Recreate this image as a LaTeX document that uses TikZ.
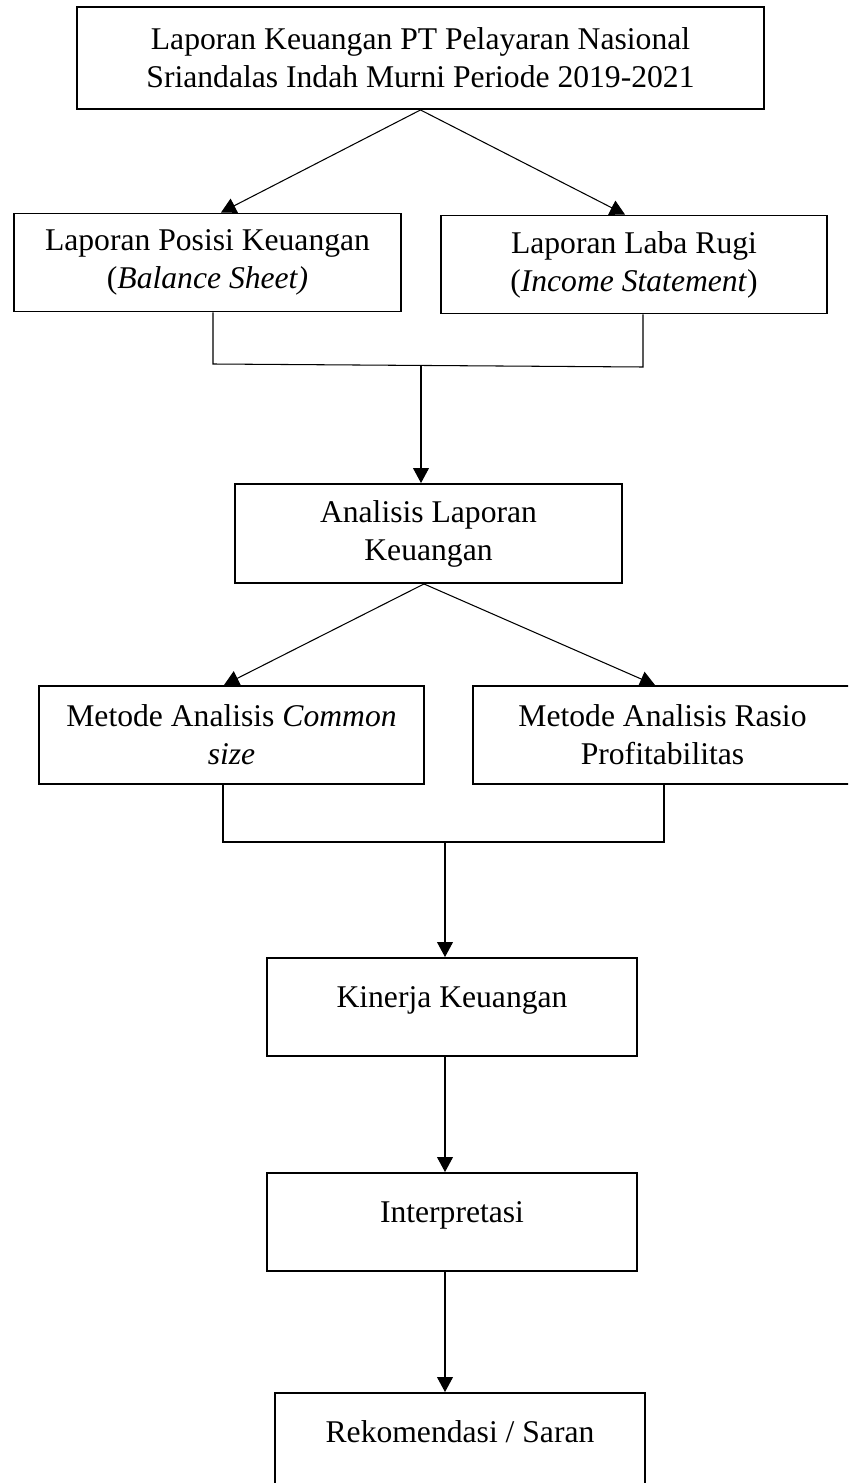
\documentclass[tikz,border=0pt]{standalone}
\usepackage{fontspec}
\setmainfont{Liberation Serif}
\usetikzlibrary{arrows.meta,positioning}

\begin{document}
\begin{tikzpicture}[x=0.02cm, y=-0.02cm,
    box/.style={draw, line width=1.1pt, align=center, inner sep=0pt,
        font=\fontsize{18}{21.6}\selectfont, minimum height=1.96cm},
    onebox/.style={box, text height=0.42cm, text depth=0.42cm},
    link/.style={line width=0.6pt},
    >={Triangle[width=9pt,length=8.5pt]}]
\clip (0,0) rectangle (848,1483);

% Boxes
\node[box, minimum width=13.74cm, minimum height=2.04cm] (lap) at (420.5,58)
    {Laporan Keuangan PT Pelayaran Nasional\\Sriandalas Indah Murni Periode 2019-2021};
\node[box, minimum width=7.74cm] (posisi) at (207.5,262.5)
    {Laporan Posisi Keuangan\\(\textit{Balance Sheet)}};
\node[box, minimum width=7.72cm] (labarugi) at (634,264.5)
    {Laporan Laba Rugi\\(\textit{Income Statement})};
\node[box, minimum width=7.74cm, minimum height=1.98cm] (analisis) at (428.5,533.5)
    {Analisis Laporan\\Keuangan};
\node[box, minimum width=7.7cm] (common) at (231.5,735)
    {Metode Analisis \textit{Common}\\\textit{size}};
\node[box, minimum width=7.58cm] (rasio) at (662.5,735)
    {Metode Analisis Rasio\\Profitabilitas};
\node[onebox, minimum width=7.4cm] (kinerja) at (452,1007) {Kinerja Keuangan};
\node[onebox, minimum width=7.4cm] (interp) at (452,1222) {Interpretasi};
\node[onebox, minimum width=7.4cm] (rekom) at (460,1442) {Rekomendasi / Saran};

% Junction points
\coordinate (t1) at (221,0);
\coordinate (t2) at (625,0);
\coordinate (j1l) at (213,364);
\coordinate (j1r) at (643,367);
\coordinate (j1m) at (421,366);
\coordinate (t3) at (224,0);
\coordinate (t4) at (655,0);
\coordinate (s2) at (424,0);
\coordinate (j2l) at (223,842);
\coordinate (j2r) at (664,842);
\coordinate (j2m) at (445,842);

% Connectors
\draw[link, ->] (lap.south) -- (t1 |- posisi.north);
\draw[link, ->] (lap.south) -- (t2 |- labarugi.north);
\draw[link] (j1l |- posisi.south) -- (j1l) -- (j1r) -- (j1r |- labarugi.south);
\draw[link, ->] (j1m) -- (j1m |- analisis.north);
\draw[link, ->] (s2 |- analisis.south) -- (t3 |- common.north);
\draw[link, ->] (s2 |- analisis.south) -- (t4 |- rasio.north);
\draw[link] (j2l |- common.south) -- (j2l) -- (j2r) -- (j2r |- rasio.south);
\draw[link, ->] (j2m) -- (j2m |- kinerja.north);
\draw[link, ->] (j2m |- kinerja.south) -- (j2m |- interp.north);
\draw[link, ->] (j2m |- interp.south) -- (j2m |- rekom.north);
\end{tikzpicture}
\end{document}
